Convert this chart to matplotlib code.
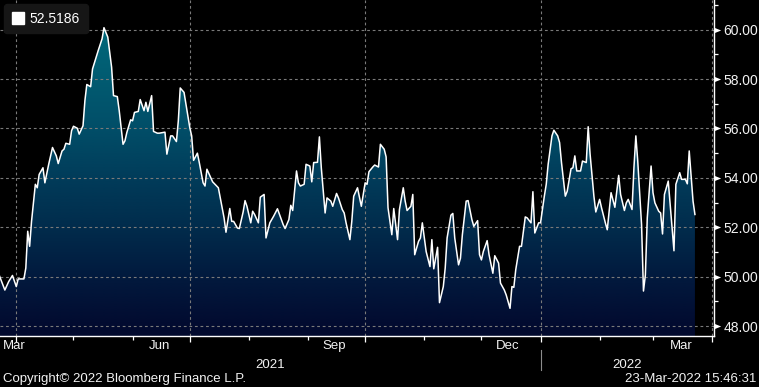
import numpy as np
import pandas as pd
import matplotlib
matplotlib.use('Agg')
import matplotlib.pyplot as plt
import matplotlib.dates as mdates
from matplotlib.colors import LinearSegmentedColormap
from matplotlib.patches import Patch
from matplotlib.path import Path

# days after 2021-03-23 and index level
start = pd.Timestamp('2021-03-23')
day_offsets = [
    0, 3, 5, 7, 9, 10, 13, 14, 15, 16,
    17, 19, 20, 21, 23, 24, 26, 28, 30, 31,
    33, 34, 35, 37, 38, 39, 41, 42, 44, 45,
    46, 48, 49, 52, 54, 55, 57, 59, 60, 62,
    63, 65, 66, 67, 69, 70, 71, 73, 74, 76,
    77, 78, 80, 81, 83, 84, 87, 88, 90, 91,
    93, 94, 95, 97, 98, 100, 101, 102, 104, 105,
    107, 108, 109, 112, 113, 115, 116, 118, 119, 121,
    122, 123, 125, 126, 128, 129, 130, 132, 133, 134,
    136, 137, 139, 140, 142, 144, 146, 147, 149, 150,
    152, 153, 154, 156, 157, 158, 160, 161, 163, 164,
    165, 167, 168, 169, 171, 172, 174, 175, 177, 178,
    180, 181, 182, 184, 185, 186, 188, 190, 192, 193,
    194, 196, 197, 199, 200, 202, 203, 204, 206, 207,
    209, 210, 212, 213, 214, 216, 217, 218, 220, 221,
    222, 224, 226, 227, 228, 230, 231, 233, 234, 235,
    237, 238, 239, 241, 242, 243, 245, 246, 248, 249,
    251, 252, 253, 254, 256, 257, 259, 260, 262, 263,
    265, 266, 268, 269, 270, 271, 273, 274, 276, 277,
    279, 280, 281, 283, 284, 286, 287, 288, 290, 291,
    293, 294, 295, 297, 298, 300, 301, 302, 303, 305,
    306, 308, 309, 310, 312, 313, 315, 316, 318, 319,
    320, 321, 323, 325, 326, 328, 329, 330, 332, 333,
    334, 335, 337, 338, 339, 340, 342, 343, 344, 346,
    347, 348, 349, 351, 352, 354, 355, 357, 358, 360,
    361, 362, 364, 365,
]
values = [
    50.07, 49.46, 49.80, 50.05, 49.60, 49.91, 49.91, 50.35, 51.84, 51.23,
    52.24, 53.74, 53.60, 54.14, 54.41, 53.80, 54.55, 55.23, 54.89, 54.58,
    55.09, 55.16, 55.40, 55.36, 55.91, 56.09, 56.01, 55.77, 56.11, 57.13,
    57.78, 57.69, 58.41, 59.16, 59.63, 60.08, 59.70, 58.48, 57.33, 57.29,
    56.72, 55.36, 55.50, 55.84, 56.35, 56.31, 56.65, 56.69, 57.17, 56.72,
    57.06, 56.69, 57.33, 55.88, 55.81, 55.81, 55.85, 54.96, 55.70, 55.70,
    55.47, 56.31, 57.64, 57.46, 56.99, 56.04, 55.70, 54.71, 55.00, 54.62,
    53.80, 53.67, 54.35, 53.84, 53.76, 53.60, 53.19, 52.38, 51.80, 52.76,
    52.24, 52.24, 51.97, 51.95, 52.62, 53.08, 52.85, 52.18, 52.65, 52.52,
    52.18, 53.22, 53.33, 51.57, 52.18, 52.45, 52.75, 52.54, 52.11, 51.95,
    52.31, 52.89, 52.68, 54.28, 53.80, 53.67, 53.74, 54.55, 54.48, 53.84,
    54.62, 54.63, 55.66, 54.41, 52.58, 53.19, 53.06, 52.85, 53.37, 53.19,
    52.72, 52.58, 52.18, 51.50, 52.24, 53.26, 53.60, 52.85, 53.80, 53.74,
    54.25, 54.44, 54.52, 54.44, 55.36, 55.16, 54.85, 52.79, 51.70, 52.76,
    51.50, 52.72, 53.60, 53.06, 52.68, 52.85, 53.33, 50.89, 51.43, 51.57,
    52.18, 51.02, 50.41, 51.50, 50.32, 51.19, 48.95, 49.60, 50.35, 51.57,
    52.49, 52.56, 51.57, 50.48, 50.75, 51.70, 53.06, 53.08, 52.31, 52.04,
    52.27, 50.89, 50.68, 51.02, 51.46, 50.89, 50.14, 50.85, 50.55, 49.74,
    49.46, 49.26, 48.72, 49.60, 49.57, 50.28, 51.23, 51.23, 52.42, 52.38,
    52.18, 53.44, 51.77, 52.18, 52.18, 53.26, 53.74, 54.55, 55.70, 55.93,
    55.70, 55.43, 54.62, 53.26, 53.46, 54.37, 54.41, 54.89, 54.28, 54.28,
    54.68, 54.62, 56.07, 54.96, 53.26, 52.62, 53.13, 52.79, 52.18, 51.90,
    52.65, 53.40, 52.81, 54.10, 53.33, 52.68, 52.99, 53.13, 52.72, 54.41,
    55.70, 54.68, 52.11, 49.42, 50.07, 52.38, 54.48, 53.40, 52.99, 52.65,
    52.58, 51.73, 53.33, 53.87, 52.92, 51.05, 53.74, 54.21, 53.94, 53.94,
    53.76, 55.09, 53.06, 52.5186,
]
assert len(day_offsets) == len(values)
dates = start + pd.to_timedelta(day_offsets, unit='D')

y_ticks = [48, 50, 52, 54, 56, 58, 60]
y_minor = [49, 51, 53, 55, 57, 59, 61]
y_lim = (47.6, 61.2)
x_lim = (pd.Timestamp('2021-03-23 11:00'), pd.Timestamp('2022-04-02'))
quarter_starts = pd.to_datetime(['2021-04-01', '2021-07-01', '2021-10-01', '2022-01-01', '2022-04-01'])
month_labels = [('2021-03-15', 'Mar'), ('2021-06-15', 'Jun'), ('2021-09-15', 'Sep'),
                ('2021-12-15', 'Dec'), ('2022-03-16', 'Mar')]
year_break = pd.Timestamp('2022-01-01')
years = ['2021', '2022']
footer_left = 'Copyright\u00a9 2022 Bloomberg Finance L.P.'
footer_right = '23-Mar-2022 15:46:31'

plt.rcParams['font.family'] = ['Liberation Sans', 'DejaVu Sans']
txt = '#f2f2f2'
fs = 9.5

fig = plt.figure(figsize=(7.59, 3.87), dpi=100, facecolor='black')
ax = fig.add_axes([0.0, 51 / 387, 714 / 759, 336 / 387])
ax.set_facecolor('black')

# gradient fill under the line
grad_stops = [(47.6, '#020a2e'), (48, '#020b30'), (50, '#021a3e'), (52, '#012c4c'),
              (54, '#013c5a'), (56, '#014e68'), (60, '#02687a'), (61.2, '#037080')]
cmap = LinearSegmentedColormap.from_list(
    'bbg', [((v - y_lim[0]) / (y_lim[1] - y_lim[0]), c) for v, c in grad_stops])
poly = ax.fill_between(dates, values, y_lim[0], facecolor='none', edgecolor='none')
xn = mdates.date2num(x_lim)
grad = np.linspace(0, 1, 256).reshape(-1, 1)
im = ax.imshow(grad, cmap=cmap, aspect='auto', origin='lower',
               extent=[xn[0], xn[1], y_lim[0], y_lim[1]], zorder=1, interpolation='bilinear')
im.set_clip_path(poly.get_paths()[0], transform=ax.transData)
ax.plot(dates, values, color='white', lw=1.1, zorder=3)

ax.set_xlim(x_lim)
ax.set_ylim(y_lim)

# grid
ax.set_yticks(y_ticks)
ax.set_yticks(y_minor, minor=True)
ax.set_xticks(mdates.date2num(quarter_starts))
ax.xaxis.set_minor_locator(mdates.MonthLocator(bymonth=[2, 3, 5, 6, 8, 9, 11, 12]))
ax.grid(True, which='major', color='#7a7a7a', ls=(0, (2.5, 2.5)), lw=0.8)
for gl in ax.get_xgridlines() + ax.get_ygridlines():
    gl.set_zorder(2)

for s in ['top', 'left']:
    ax.spines[s].set_visible(False)
for s in ['bottom', 'right']:
    ax.spines[s].set_color('white')
    ax.spines[s].set_linewidth(1.0)

ax.yaxis.tick_right()
ax.tick_params(axis='y', which='major', length=0, pad=7, labelsize=fs + 0.5, labelcolor=txt)
ax.tick_params(axis='y', which='minor', length=3, width=0.9, color='white', direction='out')
ax.yaxis.set_major_formatter(plt.FormatStrFormatter('%.2f'))
ax.tick_params(axis='x', which='major', length=4.5, width=0.9, color='white', labelbottom=False)
ax.tick_params(axis='x', which='minor', length=3, width=0.9, color='white', labelbottom=False)

# triangle markers at major y ticks
tri = Path([(0, -0.4), (1, 0), (0, 0.4), (0, -0.4)],
           [Path.MOVETO, Path.LINETO, Path.LINETO, Path.CLOSEPOLY])
ax.plot([1.0] * len(y_ticks), y_ticks, ls='none', marker=tri, ms=9.6, color='white',
        mec='none', transform=ax.get_yaxis_transform(), clip_on=False, zorder=5)

# month labels
xt = ax.get_xaxis_transform()
for d, lab in month_labels:
    dn = mdates.date2num(pd.Timestamp(d))
    if dn < xn[0] + 8:
        ax.text(0.004, -0.03, lab, transform=ax.transAxes, ha='left', va='center',
                color=txt, fontsize=fs)
    else:
        ax.text(dn, -0.03, lab, transform=xt, ha='center', va='center', color=txt, fontsize=fs)

# year labels and divider
yb = mdates.date2num(year_break)
ax.text((xn[0] + yb) / 2, -0.086, years[0], transform=xt, ha='center', va='center',
        color=txt, fontsize=fs)
ax.text((yb + xn[1]) / 2, -0.086, years[1], transform=xt, ha='center', va='center',
        color=txt, fontsize=fs)
ax.plot([yb, yb], [-0.042, -0.101], transform=xt, color='#8c8c8c', lw=0.8, clip_on=False)

# legend box
leg = ax.legend(handles=[Patch(facecolor='white', edgecolor='white')],
                labels=[f'{values[-1]:.4f}'], loc='upper left', frameon=True,
                facecolor='#161616', edgecolor='#161616', framealpha=1, labelcolor='white',
                handlelength=0.85, handleheight=0.85, handletextpad=0.45,
                borderaxespad=0.3, borderpad=0.55, fontsize=fs + 0.5, fancybox=True)
leg.set_zorder(6)

fig.text(3 / 759, 8 / 387, footer_left, color=txt, fontsize=fs, ha='left', va='center')
fig.text(756 / 759, 8 / 387, footer_right, color=txt, fontsize=fs, ha='right', va='center')

fig.savefig('out.png', dpi=100, facecolor='black')
